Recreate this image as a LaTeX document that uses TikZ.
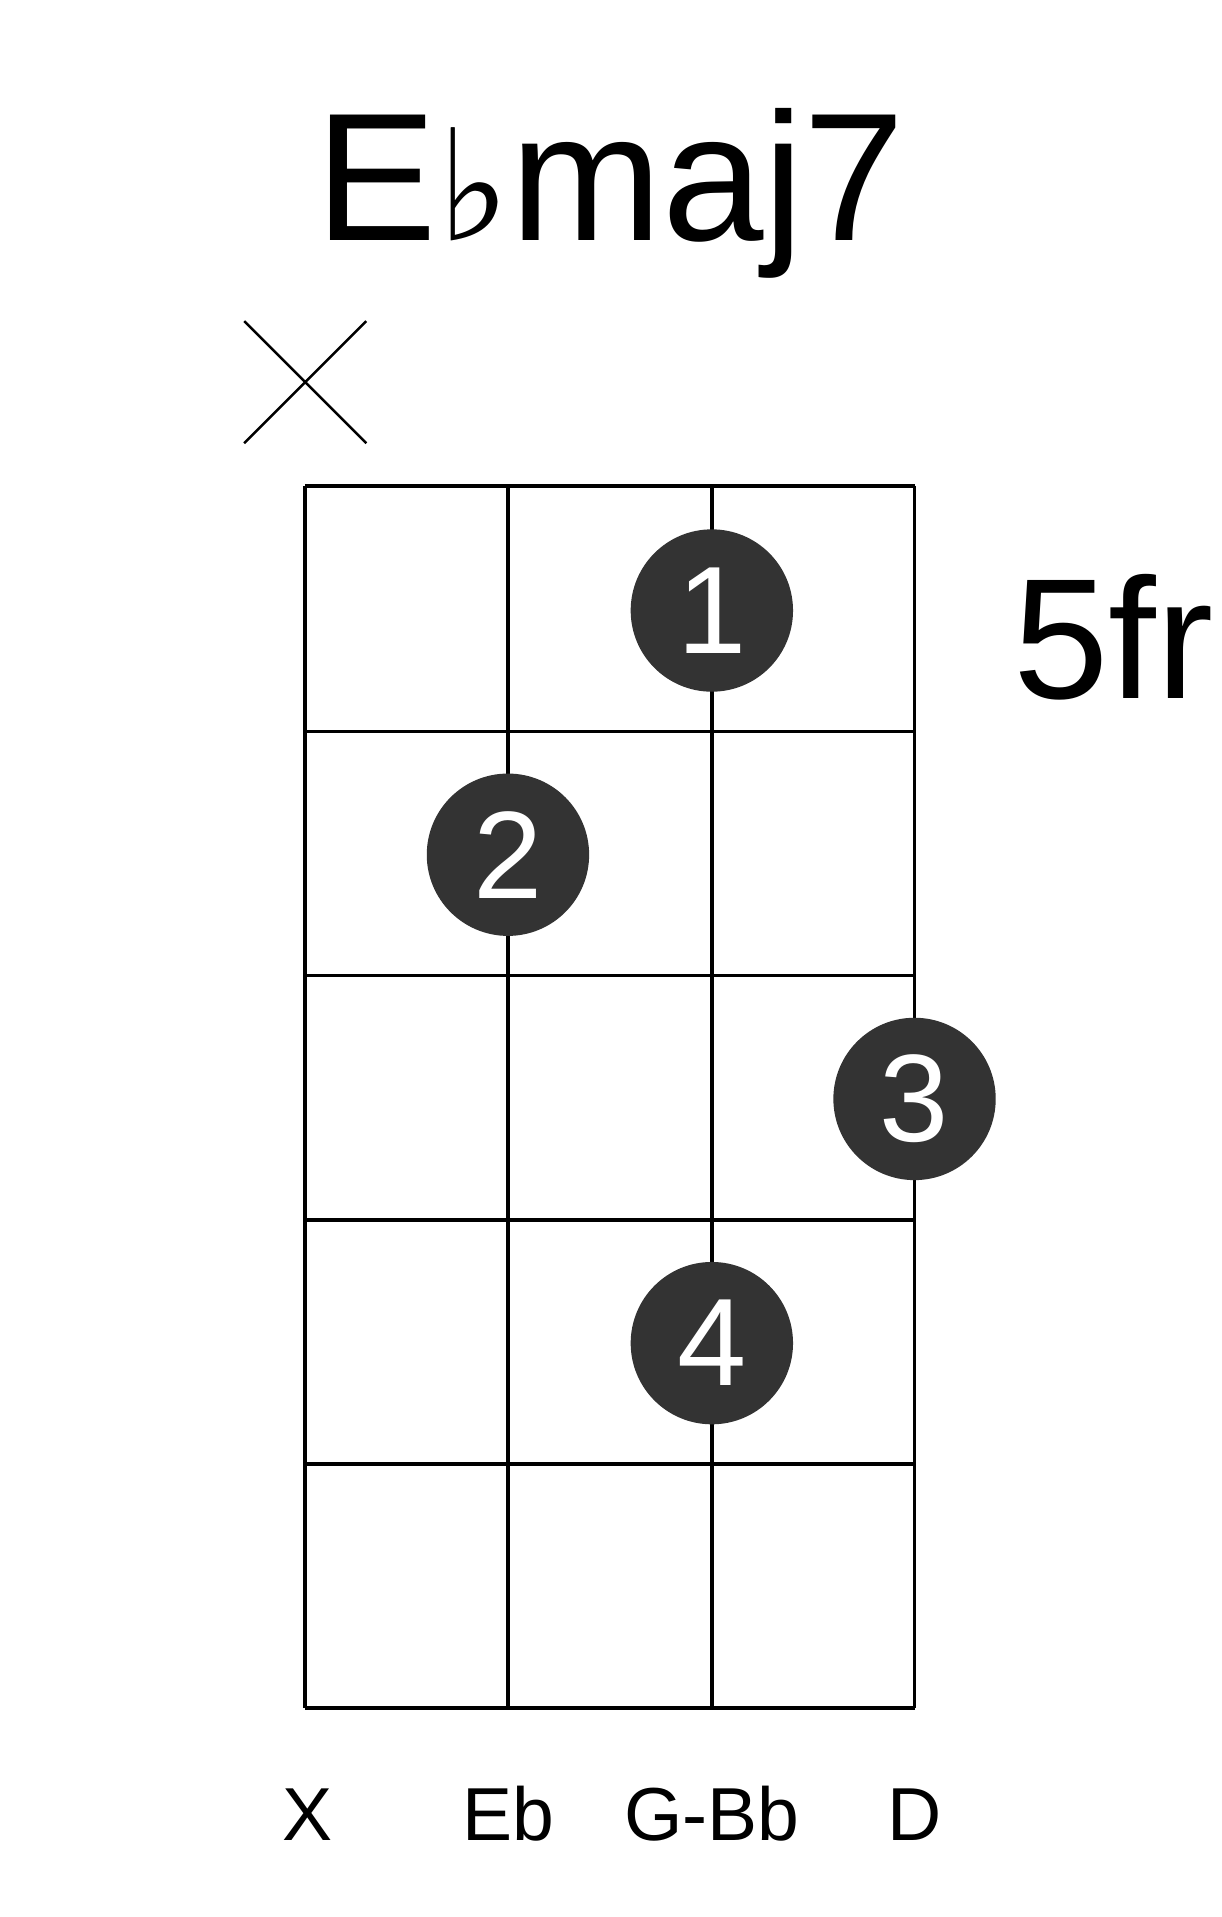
\documentclass[tikz,border=0pt]{standalone}
\usepackage{fontspec}
\setmainfont{Liberation Sans}
\newfontfamily\djv{DejaVu Sans}
\begin{document}
\begin{tikzpicture}[x=0.02cm,y=-0.02cm,
  gl/.style={line width=0.06cm},
  dot/.style={circle,fill=black!80,minimum size=2.66cm,inner sep=0pt,text=white,font=\fontsize{58}{58}\selectfont},
  lab/.style={anchor=base,font=\fontsize{35}{35}\selectfont}]
\useasboundingbox (0,0) rectangle (1000,1570);
\foreach \x in {250,416,583,749} \draw[gl] (\x,398) -- (\x,1399);
\foreach \y in {398,599,799,999,1199,1399} \draw[gl] (250,\y) -- (749,\y);
\node (title) at (500,197) [anchor=base,font=\fontsize{85}{85}\selectfont] {E{\djv\fontsize{72}{72}\selectfont ♭}maj7};
\coordinate (xa) at (200,263); \coordinate (xb) at (300,363);
\coordinate (xc) at (300,263); \coordinate (xd) at (200,363);
\draw[line width=0.04cm] (xa) -- (xb) (xc) -- (xd);
\node[dot] (d1) at (583,500) {1};
\node[dot] (d2) at (416,700) {2};
\node[dot] (d3) at (749,900) {3};
\node[dot] (d4) at (583,1100) {4};
\node (fr) at (912,572) [anchor=base,font=\fontsize{80}{80}\selectfont] {5fr};
\node[lab] (l1) at (252,1507) {X};
\node[lab] (l2) at (416,1507) {Eb};
\node[lab] (l3) at (583,1507) {G-Bb};
\node[lab] (l4) at (749,1507) {D};
\end{tikzpicture}
\end{document}
